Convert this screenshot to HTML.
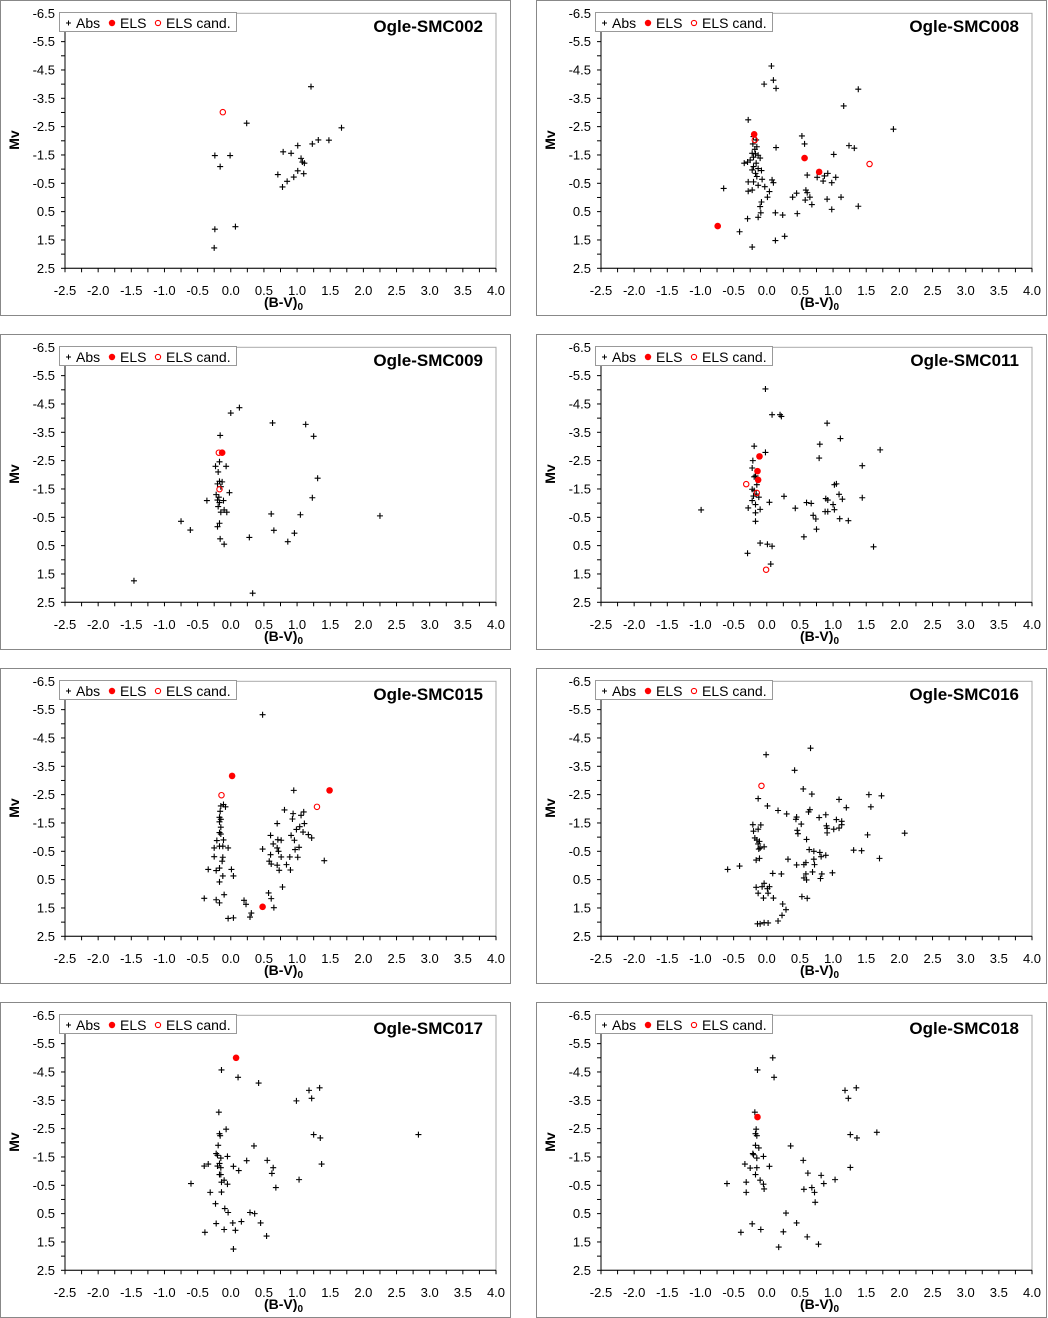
<!DOCTYPE html>
<html><head><meta charset="utf-8"><style>
html,body{margin:0;padding:0;background:#fff;}
svg{display:block;font-family:"Liberation Sans",Arial,sans-serif;}
</style></head><body>
<svg id="chart" width="1048" height="1318" viewBox="0 0 1048 1318" xmlns="http://www.w3.org/2000/svg"></svg>
<script>
const panelTitles = ["Ogle-SMC002","Ogle-SMC008","Ogle-SMC009","Ogle-SMC011","Ogle-SMC015","Ogle-SMC016","Ogle-SMC017","Ogle-SMC018"];
const xTickLabels = ["-2.5","-2.0","-1.5","-1.0","-0.5","0.0","0.5","1.0","1.5","2.0","2.5","3.0","3.5","4.0"];
const yTickLabels = ["-6.5","-5.5","-4.5","-3.5","-2.5","-1.5","-0.5","0.5","1.5","2.5"];

const smc002Abs = [[1.21,-3.91],[0.24,-2.62],[1.67,-2.46],[1.48,-2.02],[1.32,-2.03],[1.23,-1.89],[1.01,-1.83],[0.79,-1.61],[0.91,-1.56],[-0.24,-1.48],[-0.01,-1.48],[1.06,-1.38],[1.08,-1.25],[1.11,-1.21],[-0.16,-1.09],[1.01,-0.94],[1.10,-0.84],[0.71,-0.81],[0.95,-0.72],[0.85,-0.57],[0.78,-0.37],[-0.24,1.12],[0.07,1.03],[-0.25,1.78]];
const smc002Els = [];
const smc002Cand = [[-0.12,-3.01]];

const smc008Abs = [[0.07,-4.64],[0.10,-4.14],[-0.04,-4.00],[0.14,-3.85],[1.38,-3.82],[1.16,-3.23],[-0.28,-2.74],[1.91,-2.41],[0.53,-2.17],[0.57,-1.89],[0.14,-1.76],[1.24,-1.83],[1.32,-1.74],[1.01,-1.52],[-0.20,-2.15],[-0.16,-2.03],[-0.21,-1.89],[-0.15,-1.79],[-0.18,-1.70],[-0.22,-1.56],[-0.17,-1.54],[-0.13,-1.49],[-0.20,-1.42],[-0.10,-1.39],[-0.25,-1.32],[-0.34,-1.21],[-0.29,-1.25],[-0.16,-1.21],[-0.20,-1.09],[-0.13,-1.02],[-0.22,-0.97],[-0.08,-0.95],[-0.17,-0.85],[-0.15,-0.74],[-0.07,-0.64],[-0.20,-0.55],[-0.28,-0.55],[-0.13,-0.43],[-0.03,-0.38],[-0.22,-0.26],[-0.28,-0.22],[0.04,-0.21],[0.10,-0.52],[0.08,-0.62],[0.01,-0.01],[-0.08,0.16],[-0.10,0.32],[-0.09,0.54],[-0.13,0.70],[-0.29,0.75],[-0.65,-0.32],[-0.41,1.21],[-0.22,1.75],[0.13,0.54],[0.24,0.62],[0.13,1.52],[0.27,1.37],[0.46,0.57],[0.39,-0.01],[0.45,-0.15],[0.59,-0.26],[0.61,-0.17],[0.58,0.09],[0.65,-0.01],[0.68,0.25],[0.61,-0.79],[0.76,-0.71],[0.85,-0.58],[0.87,-0.76],[0.92,-0.85],[0.98,-0.52],[1.04,-0.71],[0.91,0.06],[0.98,0.42],[1.12,-0.01],[1.38,0.31]];
const smc008Els = [[-0.74,1.01],[-0.19,-2.23],[0.57,-1.39],[0.79,-0.90]];
const smc008Cand = [[1.55,-1.18],[-0.18,-2.03]];

const smc009Abs = [[0.13,-4.37],[0.00,-4.18],[0.63,-3.83],[1.13,-3.78],[1.25,-3.36],[-0.16,-3.39],[-0.17,-2.46],[-0.23,-2.30],[-0.07,-2.30],[-0.19,-2.10],[-0.17,-1.77],[-0.13,-1.75],[-0.20,-1.68],[-0.15,-1.58],[1.31,-1.88],[-0.02,-1.37],[-0.22,-1.30],[-0.18,-1.21],[-0.20,-1.11],[-0.11,-1.09],[-0.36,-1.09],[-0.17,-1.02],[-0.19,-0.88],[1.23,-1.19],[-0.10,-0.76],[-0.15,-0.68],[-0.06,-0.68],[0.61,-0.62],[1.05,-0.59],[2.25,-0.55],[-0.75,-0.36],[-0.17,-0.29],[-0.20,-0.17],[-0.61,-0.05],[0.65,-0.04],[0.96,0.06],[0.28,0.21],[-0.16,0.26],[-0.10,0.45],[0.86,0.36],[-1.46,1.74],[0.33,2.18]];
const smc009Els = [[-0.13,-2.78]];
const smc009Cand = [[-0.18,-2.78],[-0.17,-1.49]];

const smc011Abs = [[-0.02,-5.03],[0.08,-4.12],[0.20,-4.12],[0.22,-4.06],[0.91,-3.82],[1.11,-3.28],[0.80,-3.08],[-0.19,-3.01],[-0.02,-2.79],[0.79,-2.59],[1.71,-2.88],[-0.21,-2.50],[-0.22,-2.24],[1.44,-2.32],[-0.19,-1.93],[-0.17,-1.96],[-0.15,-1.65],[-0.22,-1.49],[-0.19,-1.44],[-0.16,-1.32],[-0.20,-1.25],[-0.22,-1.09],[-0.12,-1.21],[-0.17,-0.95],[-0.28,-0.83],[-0.10,-0.78],[-0.17,-0.66],[-0.17,-0.36],[0.04,-1.03],[0.26,-1.24],[0.43,-0.82],[0.60,-1.02],[0.67,-0.99],[1.02,-1.65],[1.05,-1.68],[1.09,-1.31],[1.14,-1.14],[0.89,-1.16],[0.92,-1.11],[1.00,-0.95],[1.02,-0.77],[0.88,-0.70],[0.92,-0.70],[0.70,-0.57],[0.74,-0.44],[0.75,-0.08],[1.10,-0.45],[1.23,-0.38],[1.44,-1.19],[-0.99,-0.76],[0.56,0.19],[-0.10,0.41],[0.01,0.45],[0.08,0.52],[-0.29,0.77],[1.61,0.54],[0.06,1.15]];
const smc011Els = [[-0.11,-2.65],[-0.14,-2.13],[-0.13,-1.82]];
const smc011Cand = [[-0.31,-1.67],[-0.15,-1.36],[-0.01,1.35]];

const smc015Abs = [[0.48,-5.32],[0.95,-2.65],[-0.11,-2.15],[-0.15,-2.10],[-0.08,-2.07],[-0.16,-1.91],[-0.17,-1.70],[-0.15,-1.63],[-0.17,-1.54],[-0.15,-1.35],[-0.17,-1.16],[-0.15,-1.11],[-0.21,-0.88],[-0.11,-0.90],[-0.17,-0.68],[-0.12,-0.68],[-0.25,-0.62],[-0.04,-0.62],[-0.25,-0.31],[-0.12,-0.29],[-0.13,-0.15],[-0.17,0.09],[-0.34,0.14],[-0.22,0.18],[-0.12,0.37],[0.01,0.14],[0.04,0.37],[-0.17,0.58],[-0.10,1.03],[-0.40,1.16],[-0.22,1.21],[-0.17,1.32],[-0.04,1.87],[0.04,1.85],[0.20,1.23],[0.23,1.37],[0.31,1.68],[0.29,1.82],[0.57,0.97],[0.61,1.17],[0.65,1.49],[0.78,0.76],[0.81,-1.96],[0.94,-1.83],[1.10,-1.89],[1.06,-1.77],[0.93,-1.64],[0.70,-1.48],[1.11,-1.48],[1.04,-1.37],[0.99,-1.27],[1.09,-1.18],[1.17,-1.09],[1.22,-0.97],[0.60,-1.06],[0.91,-1.06],[0.96,-0.89],[0.71,-0.91],[0.76,-0.89],[0.64,-0.76],[0.70,-0.62],[0.48,-0.58],[0.72,-0.50],[1.03,-0.64],[0.97,-0.56],[0.60,-0.38],[0.76,-0.30],[0.89,-0.30],[1.01,-0.29],[0.58,-0.15],[0.61,-0.05],[0.70,-0.01],[0.84,-0.03],[0.73,0.17],[0.90,0.16],[1.41,-0.17]];
const smc015Els = [[0.02,-3.16],[1.49,-2.65],[0.48,1.46]];
const smc015Cand = [[-0.14,-2.48],[1.30,-2.07]];

const smc016Abs = [[0.66,-4.14],[-0.01,-3.91],[0.42,-3.36],[0.55,-2.70],[0.68,-2.52],[-0.13,-2.36],[1.54,-2.50],[1.73,-2.46],[1.09,-2.33],[1.57,-2.07],[0.01,-2.10],[1.20,-2.04],[0.17,-1.94],[0.30,-1.82],[0.65,-1.97],[0.63,-1.89],[0.45,-1.71],[0.44,-1.63],[0.89,-1.79],[0.79,-1.69],[0.52,-1.46],[1.05,-1.62],[1.13,-1.56],[1.13,-1.44],[1.09,-1.32],[1.01,-1.28],[0.90,-1.40],[0.91,-1.31],[0.91,-1.15],[0.46,-1.24],[0.47,-1.12],[1.52,-1.08],[2.08,-1.14],[0.60,-0.92],[-0.21,-1.44],[-0.09,-1.43],[-0.13,-1.28],[-0.20,-1.21],[-0.18,-0.97],[-0.15,-0.90],[-0.11,-0.85],[-0.13,-0.76],[-0.10,-0.62],[-0.04,-0.66],[-0.12,-0.58],[-0.16,-0.19],[-0.11,-0.25],[0.64,-0.56],[0.71,-0.50],[0.80,-0.46],[0.82,-0.31],[0.89,-0.36],[0.71,-0.22],[0.72,-0.03],[1.31,-0.54],[1.43,-0.52],[1.70,-0.25],[0.32,-0.22],[0.45,-0.02],[0.56,-0.03],[0.59,-0.10],[0.69,0.23],[0.59,0.30],[0.56,0.44],[0.60,0.51],[0.83,0.30],[0.81,0.46],[0.99,0.26],[-0.59,0.14],[-0.41,0.02],[0.09,0.28],[0.22,0.30],[-0.16,0.77],[-0.04,0.63],[-0.07,0.75],[0.04,0.75],[0.01,0.82],[-0.13,0.98],[0.02,0.98],[-0.05,1.15],[0.10,1.15],[0.53,1.10],[0.61,1.16],[0.24,1.36],[0.29,1.56],[0.23,1.76],[0.17,1.96],[-0.14,2.06],[-0.10,2.06],[-0.04,2.02],[0.02,2.03]];
const smc016Els = [];
const smc016Cand = [[-0.08,-2.81]];

const smc017Abs = [[-0.14,-4.57],[0.11,-4.31],[0.42,-4.11],[1.18,-3.85],[1.34,-3.94],[1.22,-3.57],[0.99,-3.48],[-0.18,-3.08],[-0.07,-2.48],[-0.17,-2.32],[-0.16,-2.25],[1.25,-2.29],[1.35,-2.17],[2.83,-2.29],[-0.19,-1.91],[0.35,-1.89],[-0.22,-1.62],[-0.20,-1.56],[-0.05,-1.52],[-0.15,-1.46],[0.24,-1.37],[0.55,-1.38],[-0.34,-1.25],[-0.40,-1.18],[-0.20,-1.18],[-0.15,-1.12],[-0.17,-1.27],[0.04,-1.17],[0.12,-1.02],[0.64,-1.12],[0.62,-0.92],[1.37,-1.25],[-0.17,-0.88],[-0.15,-0.88],[-0.10,-0.68],[-0.14,-0.61],[-0.05,-0.54],[1.03,-0.70],[-0.60,-0.56],[0.68,-0.42],[-0.31,-0.25],[-0.14,-0.26],[-0.23,0.15],[-0.09,0.32],[-0.04,0.46],[0.29,0.46],[0.36,0.50],[-0.22,0.85],[0.03,0.83],[0.16,0.78],[0.45,0.83],[-0.10,1.06],[0.07,1.09],[-0.39,1.16],[0.54,1.29],[0.04,1.75]];
const smc017Els = [[0.08,-5.00]];
const smc017Cand = [];

const smc018Abs = [[0.09,-5.00],[-0.14,-4.57],[0.11,-4.31],[1.18,-3.85],[1.35,-3.94],[1.23,-3.57],[-0.18,-3.08],[-0.16,-2.48],[-0.17,-2.32],[-0.15,-2.25],[1.26,-2.29],[1.36,-2.17],[1.66,-2.37],[-0.17,-1.91],[-0.12,-1.82],[0.36,-1.89],[-0.21,-1.62],[-0.20,-1.58],[-0.05,-1.52],[-0.15,-1.46],[0.55,-1.38],[-0.33,-1.25],[-0.25,-1.11],[-0.15,-1.12],[0.04,-1.17],[1.26,-1.13],[0.62,-0.93],[0.82,-0.85],[-0.17,-0.88],[-0.10,-0.68],[-0.31,-0.61],[-0.05,-0.54],[-0.60,-0.56],[0.86,-0.56],[1.03,-0.70],[-0.04,-0.37],[0.56,-0.36],[0.68,-0.42],[0.72,-0.25],[-0.31,-0.25],[0.73,0.10],[0.29,0.48],[-0.22,0.86],[0.45,0.83],[-0.09,1.06],[-0.39,1.16],[0.25,1.14],[0.61,1.32],[0.78,1.58],[0.18,1.68]];
const smc018Els = [[-0.14,-2.91]];
const smc018Cand = [];

const absSeries = [smc002Abs,smc008Abs,smc009Abs,smc011Abs,smc015Abs,smc016Abs,smc017Abs,smc018Abs];
const elsSeries = [smc002Els,smc008Els,smc009Els,smc011Els,smc015Els,smc016Els,smc017Els,smc018Els];
const candSeries = [smc002Cand,smc008Cand,smc009Cand,smc011Cand,smc015Cand,smc016Cand,smc017Cand,smc018Cand];

const NS = "http://www.w3.org/2000/svg";
const svg = document.getElementById("chart");
function mk(tag, attrs, parent){
  const e = document.createElementNS(NS, tag);
  for (const k in attrs) e.setAttribute(k, attrs[k]);
  parent.appendChild(e);
  return e;
}
const X_MIN=-2.5, X_MAX=4.0, Y_MIN=-6.5, Y_MAX=2.5;
const PL=65, PR=496, PT=13.3, PB=268.3;

panelTitles.forEach((title, i) => {
  const ox = (i % 2) * 536, oy = Math.floor(i / 2) * 334;
  const xs = v => ox + PL + (v - X_MIN) / (X_MAX - X_MIN) * (PR - PL);
  const ys = v => oy + PT + (v - Y_MIN) / (Y_MAX - Y_MIN) * (PB - PT);
  const g = mk("g", {}, svg);
  
  
  const frame = mk("rect", {x: ox + 0.5, y: oy + 0.5, width: 510, height: 315, fill: "#fff", stroke: "#888", "stroke-width": 1}, g);
  
  
  const plot = mk("rect", {x: ox + PL, y: oy + PT, width: PR - PL, height: PB - PT, fill: "none", stroke: "#aaa", "stroke-width": 1}, g);
  
  
  const yAxis = mk("line", {x1: ox + PL, y1: oy + PT, x2: ox + PL, y2: oy + PB, stroke: "#000", "stroke-width": 1}, g);
  
  
  const xAxis = mk("line", {x1: ox + PL, y1: oy + PB, x2: ox + PR, y2: oy + PB, stroke: "#000", "stroke-width": 1}, g);
  
  
  for (let k = 0; k <= 26; k++) {
    const v = X_MIN + k * 0.25, px = xs(v);
    mk("line", {x1: px, y1: oy + PB, x2: px, y2: oy + PB + 4, stroke: "#000", "stroke-width": 1}, g);
  }
  xTickLabels.forEach(lbl => {
    const t = mk("text", {x: xs(parseFloat(lbl)), y: oy + 295, "text-anchor": "middle", "font-size": 13, fill: "#000"}, g);
    t.textContent = lbl;
    
    
  });
  for (let k = 0; k <= 18; k++) {
    const v = Y_MIN + k * 0.5, py = ys(v);
    mk("line", {x1: ox + PL - 4, y1: py, x2: ox + PL, y2: py, stroke: "#000", "stroke-width": 1}, g);
  }
  yTickLabels.forEach(lbl => {
    const t = mk("text", {x: ox + 55, y: ys(parseFloat(lbl)) + 4.5, "text-anchor": "end", "font-size": 13, fill: "#000"}, g);
    t.textContent = lbl;
    
    
  });
  const yt = mk("text", {x: ox + 19, y: oy + 140, "text-anchor": "middle", "font-size": 14, "font-weight": "bold", transform: `rotate(-90 ${ox + 19} ${oy + 140})`}, g);
  yt.textContent = "Mv";
  
  
  const xt = mk("text", {x: ox + 264, y: oy + 307, "font-size": 14, "font-weight": "bold"}, g);
  xt.textContent = "(B-V)";
  const sub = mk("tspan", {"font-size": 10, dy: 3}, xt);
  sub.textContent = "0";
  
  
  const tt = mk("text", {x: ox + 483, y: oy + 32, "text-anchor": "end", "font-size": 17, "font-weight": "bold"}, g);
  tt.textContent = title;
  
  
  // legend
  const lg = mk("g", {}, g);
  
  
  mk("rect", {x: ox + 59.5, y: oy + 12.5, width: 177, height: 19, fill: "#fff", stroke: "#999", "stroke-width": 1}, lg);
  mk("path", {d: `M${ox+66} ${oy+23}h5M${ox+68.5} ${oy+20.5}v5`, stroke: "#000", "stroke-width": 1}, lg);
  const l1 = mk("text", {x: ox + 76, y: oy + 28, "font-size": 14}, lg); l1.textContent = "Abs";
  
  
  mk("circle", {cx: ox + 112, cy: oy + 23, r: 3.2, fill: "#f00"}, lg);
  const l2 = mk("text", {x: ox + 120, y: oy + 28, "font-size": 14}, lg); l2.textContent = "ELS";
  
  
  mk("circle", {cx: ox + 158, cy: oy + 23, r: 2.6, fill: "none", stroke: "#f00", "stroke-width": 1.1}, lg);
  const l3 = mk("text", {x: ox + 166, y: oy + 28, "font-size": 14}, lg); l3.textContent = "ELS cand.";
  
  
  // data
  absSeries[i].forEach(p => {
    const cx = xs(p[0]), cy = ys(p[1]);
    const m = mk("path", {d: `M${cx-3} ${cy}h6M${cx} ${cy-3}v6`, stroke: "#000", "stroke-width": 1.1}, g);
    
    
  });
  elsSeries[i].forEach(p => {
    const m = mk("circle", {cx: xs(p[0]), cy: ys(p[1]), r: 3.3, fill: "#f00"}, g);
    
    
  });
  candSeries[i].forEach(p => {
    const m = mk("circle", {cx: xs(p[0]), cy: ys(p[1]), r: 2.7, fill: "none", stroke: "#f00", "stroke-width": 1.1}, g);
    
    
  });
});
</script>
</body></html>
